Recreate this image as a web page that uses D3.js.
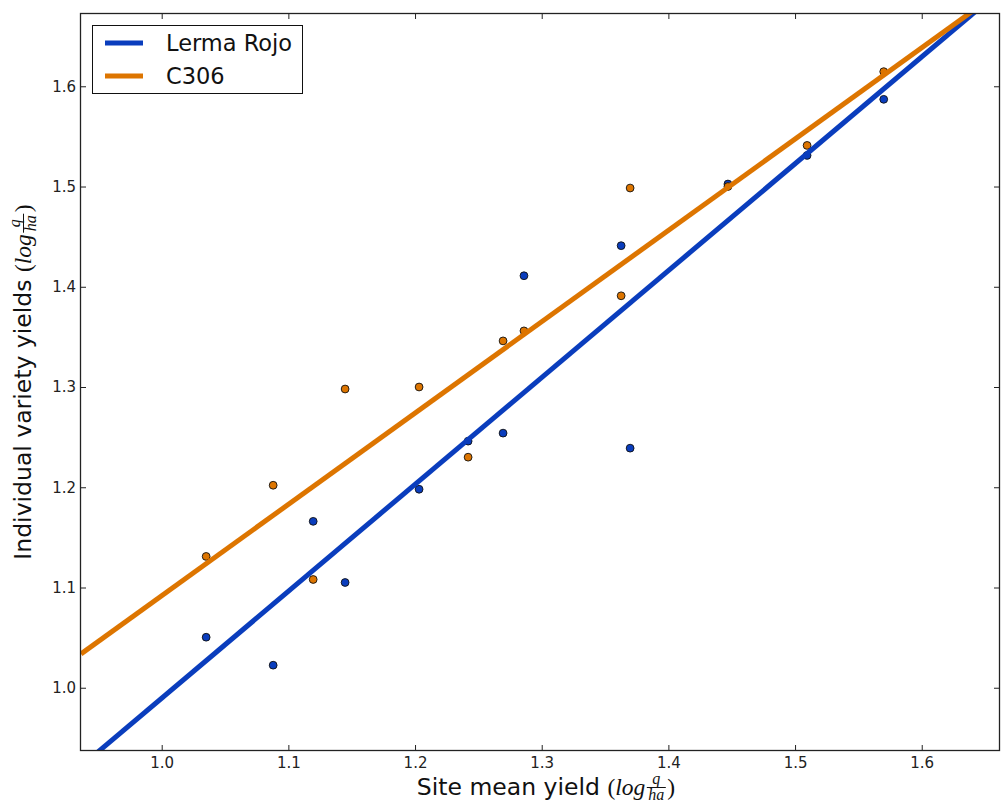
<!DOCTYPE html>
<html>
<head>
<meta charset="utf-8">
<script src="https://cdn.jsdelivr.net/npm/d3@7"></script>
<style>
  body { margin: 0; background: #fff; }
  svg { display: block; }
</style>
</head>
<body>
<svg id="chart" width="1001" height="803"></svg>
<script>
// Site mean yield (log q/ha) for each trial site
const siteMean = [1.0351, 1.088, 1.1196, 1.1448, 1.2032, 1.2419, 1.2695, 1.286, 1.3627, 1.3698, 1.447, 1.5095, 1.570];
// Individual variety yields at the same sites
const lermaRojo = [1.0504, 1.0225, 1.166, 1.105, 1.198, 1.246, 1.254, 1.411, 1.441, 1.239, 1.5025, 1.531, 1.587];
const c306      = [1.131, 1.202, 1.108, 1.298, 1.300, 1.230, 1.346, 1.356, 1.391, 1.4985, 1.500, 1.541, 1.6146];

const seriesNames  = ["Lerma Rojo", "C306"];
const seriesColors = ["#0a3dbd", "#dd7500"];
const xTicks = [1.0, 1.1, 1.2, 1.3, 1.4, 1.5, 1.6];
const yTicks = [1.0, 1.1, 1.2, 1.3, 1.4, 1.5, 1.6];
const xDomain = [0.9363, 1.6610];
const yDomain = [0.9379, 1.6721];

const svg = d3.select("#chart");
const plot = { left: 81, right: 999, top: 14, bottom: 750 };
const x = d3.scaleLinear().domain(xDomain).range([plot.left, plot.right]);
const y = d3.scaleLinear().domain(yDomain).range([plot.bottom, plot.top]);

const sans = "'DejaVu Sans', sans-serif";
const serif = "'Liberation Serif', 'DejaVu Serif', serif";

svg.append("defs").append("clipPath").attr("id", "plotClip")
  .append("rect")
  .attr("x", plot.left).attr("y", plot.top)
  .attr("width", plot.right - plot.left).attr("height", plot.bottom - plot.top);

// Ordinary least-squares fit of a variety's yields on the site means
function linearFit(xs, ys) {
  const mx = d3.mean(xs), my = d3.mean(ys);
  let sxy = 0, sxx = 0;
  xs.forEach((v, i) => { sxy += (v - mx) * (ys[i] - my); sxx += (v - mx) * (v - mx); });
  const slope = sxy / sxx;
  return { slope, intercept: my - slope * mx };
}

const series = [lermaRojo, c306].map((vals, i) => ({
  name: seriesNames[i],
  color: seriesColors[i],
  points: vals.map((v, j) => ({ x: siteMean[j], y: v })),
  fit: linearFit(siteMean, vals)
}));

const plotArea = svg.append("g").attr("clip-path", "url(#plotClip)");

// scatter points sit beneath the fitted lines
series.forEach(s => {
  plotArea.append("g").selectAll("circle").data(s.points).join("circle")
    .attr("cx", d => x(d.x)).attr("cy", d => y(d.y))
    .attr("r", 3.9)
    .attr("fill", s.color)
    .attr("stroke", "#111").attr("stroke-width", 0.9);
});

series.forEach(s => {
  const ends = xDomain.map(v => ({ x: v, y: s.fit.intercept + s.fit.slope * v }));
  plotArea.append("path")
    .datum(ends)
    .attr("d", d3.line().x(d => x(d.x)).y(d => y(d.y)))
    .attr("fill", "none")
    .attr("stroke", s.color)
    .attr("stroke-width", 5);
});

// axes with inward ticks on all four sides
const fmt = d3.format(".1f");
function styleAxis(g) {
  g.select(".domain").remove();
  g.selectAll(".tick line").attr("stroke", "#222").attr("stroke-width", 1);
  g.selectAll(".tick text").attr("fill", "#222").style("font-family", sans).style("font-size", "15px");
}
svg.append("g").attr("transform", `translate(0,${plot.bottom})`)
  .call(d3.axisBottom(x).tickValues(xTicks).tickFormat(fmt).tickSize(-5).tickPadding(7))
  .call(styleAxis);
svg.append("g").attr("transform", `translate(${plot.left},0)`)
  .call(d3.axisLeft(y).tickValues(yTicks).tickFormat(fmt).tickSize(-5).tickPadding(5))
  .call(styleAxis);
svg.append("g").attr("transform", `translate(0,${plot.top})`)
  .call(d3.axisTop(x).tickValues(xTicks).tickFormat("").tickSize(-5))
  .call(styleAxis);
svg.append("g").attr("transform", `translate(${plot.right},0)`)
  .call(d3.axisRight(y).tickValues(yTicks).tickFormat("").tickSize(-5))
  .call(styleAxis);

svg.append("rect")
  .attr("x", plot.left - 0.5).attr("y", plot.top - 0.5)
  .attr("width", plot.right - plot.left + 1).attr("height", plot.bottom - plot.top + 1)
  .attr("fill", "none").attr("stroke", "#222").attr("stroke-width", 1.3);

// axis title: plain words followed by the unit (log q/ha) set as math
function mathTitle(g, words) {
  const fs = 23.5, small = 16;
  let cx = 0;
  const t1 = g.append("text").attr("x", cx).attr("y", 0)
    .style("font-family", sans).style("font-size", fs + "px").attr("fill", "#111")
    .text(words);
  cx += t1.node().getComputedTextLength() + fs * 0.32;
  const lp = g.append("text").attr("x", cx).attr("y", 0)
    .style("font-family", serif).style("font-size", fs + "px").attr("fill", "#111").text("(");
  cx += lp.node().getComputedTextLength();
  const lg = g.append("text").attr("x", cx).attr("y", 0)
    .style("font-family", serif).style("font-style", "italic").style("font-size", fs + "px")
    .attr("fill", "#111").text("log");
  cx += lg.node().getComputedTextLength() + 1.5;
  const num = g.append("text").attr("y", -11)
    .style("font-family", serif).style("font-style", "italic").style("font-size", small + "px")
    .attr("fill", "#111").attr("text-anchor", "middle").text("q");
  const den = g.append("text").attr("y", 5)
    .style("font-family", serif).style("font-style", "italic").style("font-size", small + "px")
    .attr("fill", "#111").attr("text-anchor", "middle").text("ha");
  const fw = Math.max(num.node().getComputedTextLength(), den.node().getComputedTextLength()) + 3;
  num.attr("x", cx + fw / 2);
  den.attr("x", cx + fw / 2);
  g.append("line").attr("x1", cx).attr("x2", cx + fw).attr("y1", -7.5).attr("y2", -7.5)
    .attr("stroke", "#111").attr("stroke-width", 1);
  cx += fw + 1.5;
  const rp = g.append("text").attr("x", cx).attr("y", 0)
    .style("font-family", serif).style("font-size", fs + "px").attr("fill", "#111").text(")");
  cx += rp.node().getComputedTextLength();
  g.selectAll("*").attr("transform", `translate(${-cx / 2},0)`);
}

const xTitle = svg.append("g").attr("transform", `translate(${(plot.left + plot.right) / 2 + 6},795)`);
mathTitle(xTitle, "Site mean yield");
const yTitle = svg.append("g").attr("transform", `translate(31,${(plot.top + plot.bottom) / 2}) rotate(-90)`);
mathTitle(yTitle, "Individual variety yields");

// legend
const legend = svg.append("g");
legend.append("rect")
  .attr("x", 92.5).attr("y", 25.5).attr("width", 210).attr("height", 68)
  .attr("fill", "#fff").attr("stroke", "#111").attr("stroke-width", 1);
series.forEach((s, i) => {
  const ly = 43 + i * 33;
  legend.append("line").attr("x1", 105).attr("x2", 143).attr("y1", ly).attr("y2", ly)
    .attr("stroke", s.color).attr("stroke-width", 5);
  legend.append("text").attr("x", 166).attr("y", ly).attr("dy", "0.36em")
    .style("font-family", sans).style("font-size", "22.5px").attr("fill", "#111")
    .text(s.name);
});
</script>
</body>
</html>
